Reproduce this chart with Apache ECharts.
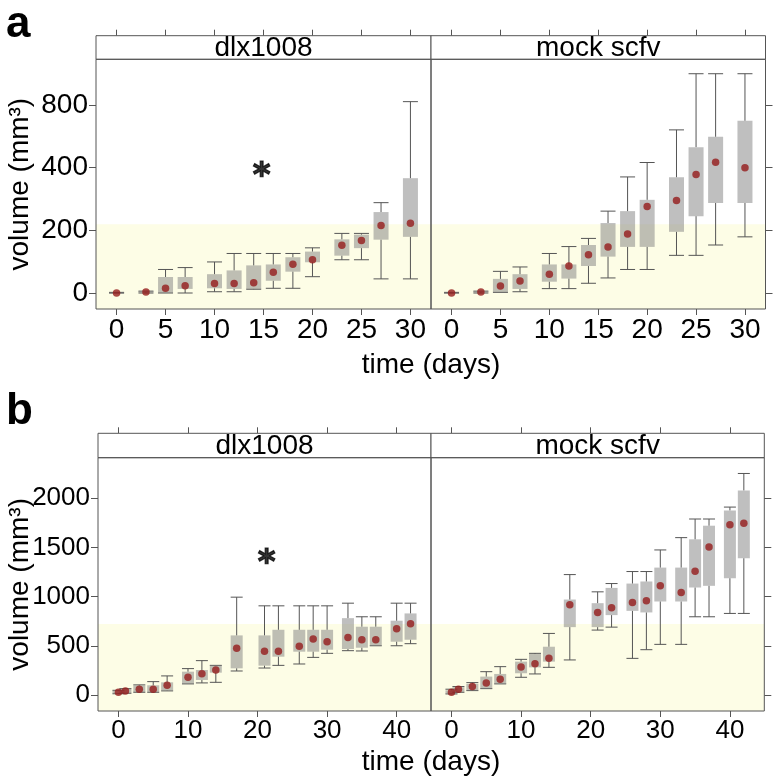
<!DOCTYPE html>
<html>
<head>
<meta charset="utf-8">
<script src="https://cdn.jsdelivr.net/npm/echarts@6/dist/echarts.min.js"></script>
<style>html,body{margin:0;padding:0;background:#fff}#c{width:777px;height:779px}</style>
</head>
<body>
<div id="c"></div>
<script>
// ---------- data ----------
const panelNames = ['dlx1008', 'mock scfv'];
const daysA = [0,3,5,7,10,12,14,16,18,20,23,25,27,30];
// [min, q1, q3, max, mean]
const dlxA = [
  [0,0,2,2,0],[0,2,6,6,3],[0,0,51,75,15],[0,13,51,81,23],[4,15,60,99,30],
  [4,13,72,126,30],[12,13,88,126,33],[15,39,91,126,66],[15,68,114,126,92],
  [52,98,132,144,106],[106,119,171,190,152],[106,143,186,190,167],
  [45,170,258,288,215],[45,179,366,610,222]
];
const mockA = [
  [0,0,2,2,0],[0,2,6,6,3],[2,2,45,69,22],[4,13,60,83,38],[14,36,91,126,60],
  [14,46,91,148,86],[31,86,153,174,122],[48,116,223,261,147],[75,147,261,370,188],
  [75,147,297,416,276],[120,195,369,520,295],[120,245,465,699,378],
  [153,287,498,699,417],[179,287,549,699,399]
];
const daysB = [0,1,3,5,7,10,12,14,17,21,23,26,28,30,33,35,37,40,42];
const dlxB = [
  [15,20,45,50,30],[20,20,67,67,44],[30,30,98,105,61],[30,34,101,138,61],
  [44,47,131,196,101],[115,115,239,270,182],[125,155,256,351,219],[131,229,303,303,256],
  [246,273,607,995,476],[276,300,607,907,445],[303,391,664,907,445],[317,442,664,907,496],
  [384,442,664,907,570],[425,462,664,907,543],[452,469,782,934,587],[449,482,695,796,563],
  [502,502,695,796,563],[502,543,756,934,675],[523,563,830,934,725]
];
const mockB = [
  [13,15,50,61,30],[30,34,81,88,61],[47,47,115,128,88],[67,67,189,239,125],
  [115,115,216,290,162],[182,223,341,364,287],[216,283,418,425,320],[283,341,492,627,374],
  [358,691,971,1224,917],[661,691,934,1049,840],[691,813,1089,1133,887],[374,856,1133,1255,941],
  [462,840,1154,1255,958],[516,951,1295,1474,1110],[516,951,1295,1599,1042],[796,1093,1582,1788,1258],
  [796,1110,1720,1788,1504],[830,1187,1875,1909,1730],[830,1390,2078,2250,1744]
];
const bandTop = [219, 722];          // shaded band upper value (a, b)
const yTickValsA = [0,200,400,600];
const yTickLabelsA = ['0','200','400','800'];
const yTickValsB = [0,500,1000,1500,2000];
const yTickLabelsB = ['0','500','1000','1500','2000'];
const xTicksA = [0,5,10,15,20,25,30];
const xTicksB = [0,10,20,30,40];
const starA = [14.8, 387];
const starB = [21.3, 1387];
const yTitle = 'volume (mm³)';
const xTitle = 'time (days)';

// ---------- layout ----------
const FONT = 'Liberation Sans, Arial, Helvetica, sans-serif';
const rows = [
  {days: daysA, sets: [dlxA, mockA], xr: [-2.1, 32.1], yr: [-51, 745], xt: xTicksA,
   ytv: yTickValsA, ytl: yTickLabelsA, band: bandTop[0], star: starA, bw: 15, fs: 28,
   grids: [{left:96, width:335}, {left:431, width:334.5}], top: 59.3, height: 249.7, stripH: 23.6},
  {days: daysB, sets: [dlxB, mockB], xr: [-2.94, 44.94], yr: [-160, 2410], xt: xTicksB,
   ytv: yTickValsB, ytl: yTickLabelsB, band: bandTop[1], star: starB, bw: 12, fs: 26,
   grids: [{left:98, width:333}, {left:431, width:333.3}], top: 457.7, height: 253.3, stripH: 24.4}
];

const grid = [], xAxis = [], yAxis = [], series = [], graphic = [];
const LINE = '#555555';

rows.forEach((r, ri) => {
  r.grids.forEach((g, pi) => {
    const gi = grid.length;
    grid.push({left: g.left, top: r.top, width: g.width, height: r.height, show: false});
    xAxis.push({type: 'value', gridIndex: gi, min: r.xr[0], max: r.xr[1], position: 'bottom',
      splitLine: {show: false}, axisLine: {show: false, onZero: false},
      axisTick: {show: true, length: 6, lineStyle: {color: LINE}, customValues: r.xt},
      axisLabel: {show: true, customValues: r.xt, fontFamily: FONT, fontSize: r.fs, color: '#000', margin: 7}
    });
    yAxis.push({type: 'value', gridIndex: gi, min: r.yr[0], max: r.yr[1],
      position: pi === 0 ? 'left' : 'right',
      splitLine: {show: false}, axisLine: {show: false, onZero: false},
      axisTick: {show: true, length: 7, lineStyle: {color: LINE}, customValues: r.ytv},
      axisLabel: {show: true, customValues: r.ytv, fontFamily: FONT, fontSize: r.fs, color: '#000', margin: 8,
        formatter: v => { if (pi !== 0) return ''; const k = r.ytv.indexOf(v); return k >= 0 ? r.ytl[k] : ''; }}
    });
  });
});
rows.forEach((r, ri) => {
  r.grids.forEach((g, pi) => {
    const gi = ri * 2 + pi;
    xAxis.push({type: 'value', gridIndex: gi, min: r.xr[0], max: r.xr[1], position: 'top', offset: r.stripH,
      splitLine: {show: false}, axisLine: {show: false, onZero: false},
      axisTick: {show: true, length: 6, lineStyle: {color: LINE}, customValues: r.xt},
      axisLabel: {show: false}
    });
  });
});

function boxRender(bw) {
  return function (params, api) {
    const x = api.value(0);
    const pMin = api.coord([x, api.value(1)]);
    const pQ1 = api.coord([x, api.value(2)]);
    const pQ3 = api.coord([x, api.value(3)]);
    const pMax = api.coord([x, api.value(4)]);
    const cx = pMin[0];
    const h = bw / 2;
    const ls = {stroke: LINE, lineWidth: 1};
    return {type: 'group', children: [
      {type: 'line', shape: {x1: cx, y1: pMax[1], x2: cx, y2: pQ3[1]}, style: ls},
      {type: 'line', shape: {x1: cx, y1: pQ1[1], x2: cx, y2: pMin[1]}, style: ls},
      {type: 'line', shape: {x1: cx - h, y1: pMax[1], x2: cx + h, y2: pMax[1]}, style: ls},
      {type: 'line', shape: {x1: cx - h, y1: pMin[1], x2: cx + h, y2: pMin[1]}, style: ls},
      {type: 'rect', shape: {x: cx - h, y: pQ3[1], width: bw, height: Math.max(pQ1[1] - pQ3[1], 1.5)},
        style: {fill: 'rgba(128,128,128,0.5)'}}
    ]};
  };
}

rows.forEach((r, ri) => {
  r.sets.forEach((set, pi) => {
    const gi = ri * 2 + pi;
    const data = r.days.map((d, i) => [d, set[i][0], set[i][1], set[i][2], set[i][3]]);
    series.push({type: 'custom', xAxisIndex: gi, yAxisIndex: gi, renderItem: boxRender(r.bw),
      data: data, encode: {x: 0, y: [1, 2, 3, 4]}, silent: true, z: 2,
      markArea: {silent: true, itemStyle: {color: '#fdfde6'},
        data: [[{yAxis: r.yr[0]}, {yAxis: r.band}]]}
    });
    series.push({type: 'scatter', xAxisIndex: gi, yAxisIndex: gi, symbol: 'circle', symbolSize: 7.5,
      itemStyle: {color: '#951c1c'}, z: 5, silent: true,
      data: r.days.map((d, i) => [d, set[i][4]])});
  });
  series.push({type: 'scatter', xAxisIndex: ri * 2, yAxisIndex: ri * 2, symbolSize: 0, silent: true, z: 6,
    data: [r.star],
    label: {show: true, position: 'inside', formatter: '*', fontFamily: 'DejaVu Sans, ' + FONT, fontWeight: 'bold',
      fontSize: 34, color: '#000', textBorderColor: '#000', textBorderWidth: 1.2, offset: [0, 6]}});

  const stripTop = r.top - r.stripH;
  r.grids.forEach((g, pi) => {
    graphic.push({type: 'rect', shape: {x: g.left, y: r.top, width: g.width, height: r.height},
      style: {fill: 'none', stroke: LINE, lineWidth: 1}, z: 20, silent: true});
    graphic.push({type: 'rect', shape: {x: g.left, y: stripTop, width: g.width, height: r.stripH},
      style: {fill: '#fff', stroke: LINE, lineWidth: 1}, z: 10});
    graphic.push({type: 'text', x: g.left + g.width / 2, y: stripTop + r.stripH / 2 + 1,
      style: {text: panelNames[pi], font: '28px ' + FONT, fill: '#000', textAlign: 'center', textVerticalAlign: 'middle'}, z: 11});
  });
  graphic.push({type: 'text', x: 431, y: ri === 0 ? 365 : 762,
    style: {text: xTitle, font: '28px ' + FONT, fill: '#000', textAlign: 'center', textVerticalAlign: 'middle'}});
  graphic.push({type: 'text', x: 20, y: r.top + r.height / 2, rotation: Math.PI / 2,
    style: {text: yTitle, font: '28px ' + FONT, fill: '#000', textAlign: 'center', textVerticalAlign: 'middle'}});
});
graphic.push({type: 'text', x: 6, y: 3, style: {text: 'a', font: 'bold 44px ' + FONT, fill: '#000'}});
graphic.push({type: 'text', x: 6, y: 390, style: {text: 'b', font: 'bold 44px ' + FONT, fill: '#000'}});

const chart = echarts.init(document.getElementById('c'), null, {renderer: 'canvas'});
chart.setOption({animation: false, backgroundColor: '#fff', grid, xAxis, yAxis, series, graphic});
</script>
</body>
</html>
